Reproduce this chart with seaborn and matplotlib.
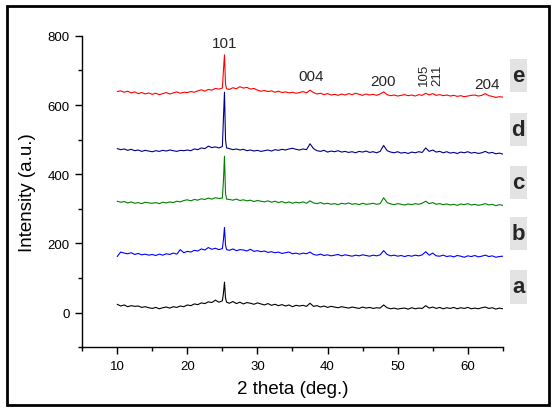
import numpy as np
import pandas as pd
import seaborn as sns
from matplotlib import pyplot as plt
from matplotlib.patches import Rectangle
from matplotlib.ticker import MultipleLocator

# 2 theta sampling positions (deg.)
two_theta = [10.0, 10.5, 11.0, 11.5, 12.0, 12.5, 13.0, 13.5, 14.0, 14.5,
             15.0, 15.5, 16.0, 16.5, 17.0, 17.5, 18.0, 18.5, 19.0, 19.5,
             20.0, 20.5, 21.0, 21.5, 22.0, 22.5, 23.0, 23.5, 24.0, 24.5,
             25.0, 25.15, 25.3, 25.45, 25.6,
             26.0, 26.5, 27.0, 27.5, 28.0, 28.5, 29.0, 29.5, 30.0, 30.5,
             31.0, 31.5, 32.0, 32.5, 33.0, 33.5, 34.0, 34.5, 35.0, 35.5,
             36.0, 36.5, 37.0, 37.5, 38.0, 38.5, 39.0, 39.5, 40.0, 40.5,
             41.0, 41.5, 42.0, 42.5, 43.0, 43.5, 44.0, 44.5, 45.0, 45.5,
             46.0, 46.5, 47.0, 47.5, 48.0, 48.5, 49.0, 49.5, 50.0, 50.5,
             51.0, 51.5, 52.0, 52.5, 53.0, 53.5, 54.0, 54.5, 55.0, 55.5,
             56.0, 56.5, 57.0, 57.5, 58.0, 58.5, 59.0, 59.5, 60.0, 60.5,
             61.0, 61.5, 62.0, 62.5, 63.0, 63.5, 64.0, 64.5, 65.0]

int_a = [24, 19, 22, 17, 20, 18, 19, 15, 17, 14,
         12, 15, 11, 14, 16, 13, 17, 15, 19, 17,
         22, 20, 25, 23, 28, 26, 31, 29, 36, 30,
         34, 55, 88, 42, 30,
         27, 32, 26, 30, 25, 29, 27, 24, 28, 25,
         22, 26, 21, 24, 20, 23, 19, 22, 17, 21,
         19, 21, 18, 27, 18, 20, 16, 19, 15, 18,
         16, 14, 17, 15, 13, 16, 14, 12, 16, 13,
         15, 12, 14, 13, 22, 14, 11, 13, 10, 12,
         13, 10, 14, 11, 13, 12, 20, 13, 16, 12,
         15, 11, 14, 12, 15, 11, 14, 12, 15, 11,
         13, 11, 14, 16, 12, 14, 10, 13, 11]

int_b = [162, 175, 172, 170, 173, 168, 171, 167, 169, 166,
         168, 165, 169, 166, 170, 168, 172, 169, 182, 173,
         177, 175, 180, 178, 184, 181, 188, 183, 186, 182,
         185, 210, 246, 195, 182,
         180, 184, 179, 182, 181, 178, 183, 177, 179, 176,
         178, 174, 176, 173, 175, 171, 173, 175, 170, 172,
         169, 172, 170, 175, 168, 166, 169, 165, 167, 164,
         166, 168, 164, 167, 165, 163, 166, 164, 167, 165,
         163, 166, 164, 167, 179, 168, 164, 166, 163, 165,
         162, 165, 163, 166, 164, 167, 176, 166, 172, 164,
         163, 166, 162, 164, 161, 165, 163, 160, 164, 162,
         165, 161, 163, 166, 162, 164, 160, 162, 163]

int_c = [322, 319, 321, 317, 320, 316, 318, 315, 319, 317,
         316, 318, 315, 319, 317, 320, 318, 322, 320, 324,
         326, 323, 327, 325, 329, 327, 331, 328, 332, 330,
         331, 380, 452, 345, 328,
         327, 325, 328, 324, 326, 323, 325, 321, 324, 322,
         320, 323, 319, 322, 318, 321, 317, 320, 316, 319,
         317, 320, 316, 323, 317, 315, 318, 314, 316, 313,
         315, 312, 316, 314, 317, 313, 315, 312, 316, 313,
         314, 316, 313, 315, 332, 318, 314, 312, 315, 313,
         311, 314, 312, 315, 313, 316, 322, 315, 318, 313,
         315, 312, 314, 311, 313, 310, 314, 312, 315, 311,
         313, 310, 312, 315, 311, 313, 309, 312, 310]

int_d = [474, 471, 473, 469, 472, 468, 470, 466, 469, 467,
         465, 468, 466, 469, 467, 470, 468, 466, 469, 468,
         470, 468, 473, 471, 476, 474, 481, 477, 479, 476,
         480, 560, 637, 500, 476,
         474, 471, 473, 470, 472, 468, 470, 467, 469, 466,
         468, 470, 467, 471, 469, 472, 470, 473, 475, 472,
         470, 473, 471, 488, 474, 468, 466, 469, 464, 467,
         465, 468, 464, 466, 463, 465, 462, 466, 464, 467,
         463, 465, 462, 466, 483, 468, 464, 462, 465, 461,
         463, 460, 464, 462, 465, 463, 476, 466, 470, 464,
         466, 462, 465, 461, 463, 460, 464, 462, 465, 461,
         463, 460, 462, 466, 461, 463, 459, 461, 458]

int_e = [639, 641, 637, 640, 635, 638, 633, 636, 632, 635,
         631, 634, 630, 633, 636, 632, 635, 638, 634, 637,
         636, 639, 637, 641, 644, 640, 645, 643, 648, 646,
         649, 700, 745, 660, 647,
         645, 650, 647, 653, 649, 651, 646, 648, 643, 640,
         642, 639, 641, 637, 640, 636, 638, 635, 637, 634,
         636, 639, 635, 643, 636, 632, 634, 630, 633, 629,
         631, 628, 632, 629, 633, 630, 634, 631, 628, 632,
         629, 631, 628, 632, 638, 630, 627, 629, 626, 628,
         630, 627, 629, 626, 630, 628, 634, 629, 633, 628,
         630, 627, 629, 626, 628, 625, 627, 624, 626, 628,
         629, 626, 628, 633, 627, 625, 622, 624, 623]

samples = ['a', 'b', 'c', 'd', 'e']
sample_colors = ['black', '#0000FF', '#008000', '#00008B', '#FF0000']

# reflection labels: (hkl, 2theta, intensity, rotation, size)
peak_hkl = ['101', '004', '200', '105', '211', '204']
peak_pos = [25.3, 37.6, 47.9, 53.8, 55.6, 62.8]
peak_int = [780, 684, 670, 690, 690, 661]
peak_rot = [0, 0, 0, 90, 90, 0]
peak_size = [11, 11, 11, 9.5, 9.5, 11]

# sample letter labels at right
letter_int = [74, 229, 375, 530, 685]

df = pd.concat([
    pd.DataFrame({'two_theta': two_theta, 'intensity': vals, 'sample': s})
    for s, vals in zip(samples, [int_a, int_b, int_c, int_d, int_e])
])

sns.set_style('ticks')
plt.rcParams['font.family'] = ['Liberation Sans', 'DejaVu Sans']

fig = plt.figure(figsize=(5.55, 4.14), dpi=100)
ax = fig.add_axes([0.148, 0.159, 0.758, 0.752])

sns.lineplot(data=df, x='two_theta', y='intensity', hue='sample',
             palette=dict(zip(samples, sample_colors)), estimator=None,
             sort=False, legend=False, lw=0.8, ax=ax)

ax.set_xlim(5, 65)
ax.set_ylim(-100, 800)
ax.xaxis.set_minor_locator(MultipleLocator(5))
ax.yaxis.set_minor_locator(MultipleLocator(100))
ax.set_xticks([10, 20, 30, 40, 50, 60])
ax.set_yticks([0, 200, 400, 600, 800])
ax.tick_params(which='major', direction='out', length=5, width=1, labelsize=9.5,
               color='black', labelcolor='black', pad=4)
ax.tick_params(which='minor', direction='out', length=3, width=1, color='black')
sns.despine(ax=ax)
for side in ['left', 'bottom']:
    ax.spines[side].set_color('black')
    ax.spines[side].set_linewidth(1)

ax.set_xlabel('2 theta (deg.)', fontsize=13.5, labelpad=6, color='black')
ax.set_ylabel('Intensity (a.u.)', fontsize=13.5, labelpad=8, color='black')

for hkl, px, py, rot, fs in zip(peak_hkl, peak_pos, peak_int, peak_rot, peak_size):
    ax.text(px, py, hkl, fontsize=fs, rotation=rot, ha='center', va='center')

for s, ly in zip(samples, letter_int):
    ax.add_patch(Rectangle((66.0, ly - 48), 2.4, 96, facecolor='#e3e3e3',
                           edgecolor='none', clip_on=False))
    ax.text(67.2, ly, s, fontsize=16, fontweight='bold', ha='center', va='center',
            clip_on=False)

fig.patches.append(Rectangle((7 / 555, 8 / 414), 542 / 555, 399 / 414,
                             transform=fig.transFigure, fill=False,
                             lw=2, ec='black'))

fig.savefig('out.png', dpi=100)
